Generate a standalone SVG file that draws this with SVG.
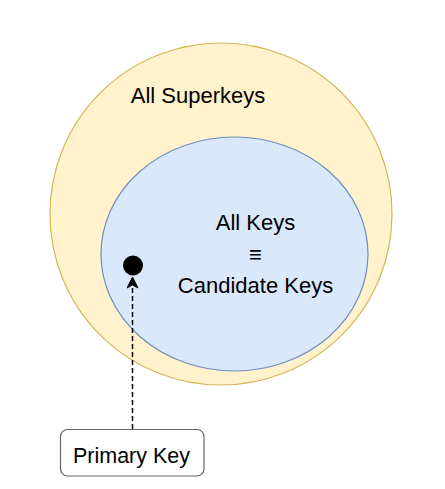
<svg xmlns="http://www.w3.org/2000/svg" width="445" height="489" viewBox="0 0 445 489">
<style>
text{font-family:"Liberation Sans",Arial,sans-serif;fill:#000;text-anchor:middle}
.t{font-size:22px}
</style>
<defs>
<marker id="arr" markerWidth="14" markerHeight="12" refX="12" refY="6" orient="auto" markerUnits="userSpaceOnUse">
<path d="M12,6 L1,0.5 L4,6 L1,11.5 Z" fill="#000" stroke="#000" stroke-width="1"/>
</marker>
</defs>
<rect width="445" height="489" fill="#fff"/>
<g id="superkeys">
<circle cx="221" cy="214" r="171" fill="#fff2cc" stroke="#d6b656" stroke-width="1.2"/>
<text class="t" x="198" y="103">All Superkeys</text>
</g>
<g id="keys">
<ellipse cx="234.5" cy="254" rx="133.5" ry="117" fill="#dae8fc" stroke="#6c8ebf" stroke-width="1.2"/>
<text class="t" x="255.5" y="230">All Keys</text>
<text class="t" x="255.5" y="262">≡</text>
<text class="t" x="255.5" y="293">Candidate Keys</text>
</g>
<g id="dot">
<circle cx="133" cy="265.5" r="10" fill="#000"/>
</g>
<g id="connectors">
<line x1="132.5" y1="429" x2="132.5" y2="277" stroke="#000" stroke-width="1.5" stroke-dasharray="5,3" marker-end="url(#arr)"/>
</g>
<g id="primary">
<rect x="60.5" y="429.5" width="143.5" height="46.5" rx="7" fill="#fff" stroke="#666" stroke-width="1.2"/>
<text x="131.5" y="463" style="font-size:21.5px">Primary Key</text>
</g>
</svg>
